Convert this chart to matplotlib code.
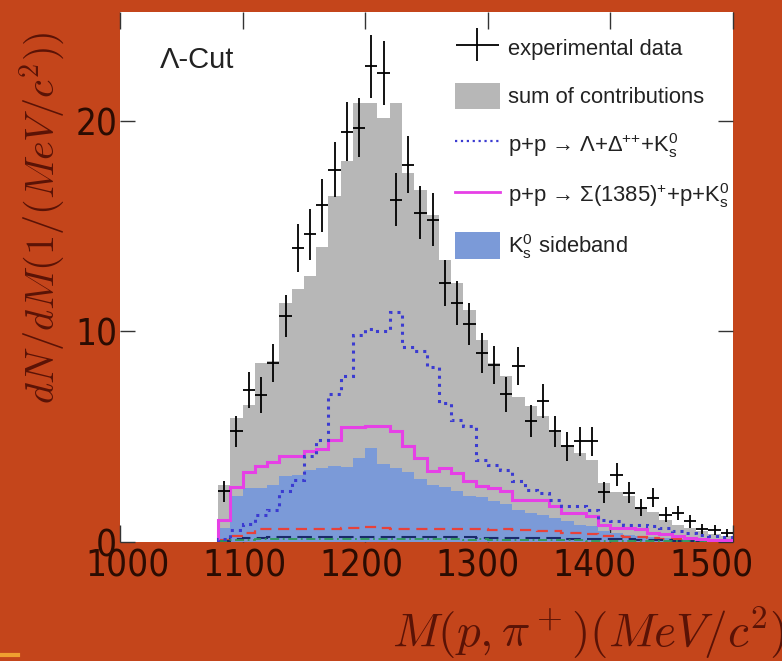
import numpy as np
import matplotlib
matplotlib.use("Agg")
import matplotlib.pyplot as plt
from matplotlib import font_manager
from matplotlib.font_manager import FontProperties
from matplotlib.patches import Patch
from matplotlib.lines import Line2D
from matplotlib.legend_handler import HandlerErrorbar

# 10 MeV bins from 1080 to 1500
edges = np.arange(1080, 1501, 10)
centers = edges[:-1] + 5

data_y = [2.41, 5.25, 7.2, 6.96, 8.5, 10.74, 13.94, 14.6, 15.98, 17.67,
          19.46, 19.65, 22.58, 22.26, 16.25, 17.9, 15.62, 15.3, 12.3, 11.34,
          10.36, 8.97, 8.42, 7.0, 8.34, 5.73, 6.68, 5.25, 4.54, 4.78,
          4.78, 2.37, 3.2, 2.33, 1.62, 2.1, 1.3, 1.38, 0.98, 0.62,
          0.56, 0.43]
data_err = [0.5, 0.75, 0.85, 0.85, 0.9, 1.0, 1.15, 1.2, 1.25, 1.3,
            1.4, 1.4, 1.5, 1.5, 1.25, 1.35, 1.25, 1.25, 1.1, 1.05,
            1.0, 0.95, 0.9, 0.85, 0.9, 0.75, 0.8, 0.75, 0.7, 0.7,
            0.7, 0.5, 0.55, 0.5, 0.4, 0.45, 0.35, 0.35, 0.3, 0.25,
            0.25, 0.2]
sum_y = [2.72, 5.9, 6.5, 8.5, 8.6, 11.35, 12.0, 12.6, 14.0, 16.4,
         18.1, 20.85, 20.85, 20.1, 20.85, 17.5, 16.7, 15.5, 13.4, 12.3,
         11.0, 9.6, 8.5, 7.9, 6.9, 6.45, 6.0, 5.2, 4.6, 4.2,
         3.9, 2.8, 2.35, 2.2, 1.65, 1.4, 1.06, 0.83, 0.68, 0.5,
         0.38, 0.3]
sideband = [0.67, 2.17, 2.56, 2.56, 2.72, 3.12, 3.2, 3.44, 3.52, 3.6,
            3.55, 4.0, 4.45, 3.7, 3.5, 3.3, 3.0, 2.7, 2.6, 2.4,
            2.2, 2.15, 1.95, 1.78, 1.54, 1.38, 1.3, 1.14, 0.98, 0.83,
            0.75, 0.51, 0.43, 0.35, 0.3, 0.25, 0.2, 0.15, 0.12, 0.1,
            0.08, 0.06]
sigma1385 = [1.06, 2.61, 3.31, 3.59, 3.78, 4.07, 4.07, 4.31, 4.39, 4.86,
             5.46, 5.46, 5.52, 5.52, 5.26, 4.54, 3.99, 3.36, 3.52, 3.28,
             2.88, 2.65, 2.57, 2.41, 2.01, 2.01, 2.01, 1.69, 1.38, 1.38,
             1.22, 0.83, 0.67, 0.67, 0.62, 0.43, 0.4, 0.27, 0.2, 0.15,
             0.1, 0.08]
lambda_delta = [0.15, 0.59, 0.85, 1.3, 1.54, 2.4, 2.96, 4.07, 4.86, 7.0,
                7.9, 9.84, 10.1, 10.0, 10.9, 9.25, 9.05, 8.3, 6.6, 5.81,
                5.5, 3.87, 3.67, 3.44, 2.88, 2.49, 2.33, 2.01, 1.69, 1.69,
                1.54, 1.06, 0.98, 0.83, 0.83, 0.75, 0.67, 0.51, 0.43, 0.35,
                0.3, 0.25]
small_red = [0.1, 0.3, 0.45, 0.6, 0.62, 0.62, 0.64, 0.62, 0.64, 0.62,
             0.66, 0.68, 0.72, 0.66, 0.64, 0.62, 0.64, 0.62, 0.6, 0.62,
             0.6, 0.6, 0.58, 0.6, 0.55, 0.55, 0.52, 0.5, 0.45, 0.42,
             0.4, 0.3, 0.28, 0.25, 0.22, 0.2, 0.15, 0.12, 0.1, 0.08,
             0.06, 0.05]
small_navy = [0.05, 0.12, 0.18, 0.2, 0.22, 0.22, 0.24, 0.22, 0.24, 0.25,
              0.24, 0.25, 0.24, 0.25, 0.24, 0.23, 0.24, 0.22, 0.23, 0.22,
              0.22, 0.2, 0.21, 0.2, 0.2, 0.18, 0.18, 0.17, 0.16, 0.15,
              0.15, 0.14, 0.13, 0.12, 0.1, 0.1, 0.08, 0.07, 0.06, 0.05,
              0.04, 0.03]
small_green = [0.03, 0.08, 0.1, 0.12, 0.13, 0.12, 0.14, 0.13, 0.14, 0.13,
               0.14, 0.15, 0.14, 0.13, 0.14, 0.13, 0.12, 0.13, 0.12, 0.12,
               0.11, 0.12, 0.11, 0.1, 0.1, 0.1, 0.09, 0.09, 0.08, 0.08,
               0.07, 0.07, 0.06, 0.06, 0.05, 0.05, 0.04, 0.04, 0.03, 0.03,
               0.02, 0.02]

x_ticks = [1000, 1100, 1200, 1300, 1400, 1500]
y_ticks = [0, 10, 20]
legend_labels = ['experimental data',
                 'sum of contributions',
                 r'p+p → Λ+$\mathregular{\Delta^{{+}{+}}}$+$\mathregular{K^0_s}$',
                 r'p+p → Σ(1385)$\mathregular{^{+}}$+p+$\mathregular{K^0_s}$',
                 r'$\mathregular{K^0_s}$ sideband']

# a narrow face for the tick numbers, if one is installed
narrow_file = None
for f in font_manager.fontManager.ttflist:
    if f.style != 'normal' or f.weight not in (400, 'normal', 'regular'):
        continue
    if 'Narrow' in f.name or 'Condensed' in f.name or f.stretch in ('condensed', 'semi-condensed'):
        narrow_file = f.fname
        if 'Sans' in f.name:
            break
if narrow_file:
    tick_font = FontProperties(fname=narrow_file, size=26.5)
else:
    tick_font = FontProperties(family='DejaVu Sans', size=23)

plt.rcParams['font.family'] = ['Liberation Sans', 'DejaVu Sans']

bg = '#c4451b'
label_col = '#5a1306'
tick_col = '#2b0c02'

fig = plt.figure(figsize=(7.82, 6.61), dpi=100, facecolor=bg)
ax = fig.add_axes([120 / 782, 119 / 661, 613 / 782, 530 / 661])
ax.set_facecolor('white')

ax.stairs(sum_y, edges, fill=True, color='#b7b7b7', zorder=1)
ax.stairs(sideband, edges, fill=True, color='#7b9ad8', zorder=2)
ax.stairs(small_red, edges, baseline=None, color='#e8413a', lw=1.6,
          ls=(0, (5, 3)), zorder=3)
ax.stairs(small_navy, edges, baseline=None, color='#1a2a6c', lw=1.5,
          ls=(0, (7, 3)), zorder=3)
ax.stairs(small_green, edges, baseline=None, color='#2f9a5a', lw=1.3,
          ls=(0, (5, 2, 1, 2)), zorder=3)
ax.stairs(sigma1385, edges, color='#e640e6', lw=2.2, zorder=4)
ax.stairs(lambda_delta, edges, color='#3b3bd1', lw=2.2, ls=':', zorder=5)
eb = ax.errorbar(centers, data_y, yerr=data_err, xerr=5, fmt='none',
                 ecolor='black', elinewidth=1.3, capsize=0, zorder=6)

ax.set_xlim(1000, 1500)
ax.set_ylim(0, 25.15)
ax.set_xticks(x_ticks)
ax.set_yticks(y_ticks)
ax.tick_params(axis='x', direction='in', top=True, bottom=True,
               labelbottom=False, length=12, width=1, color='#333333')
ax.tick_params(axis='y', direction='in', left=True, right=True,
               length=11, width=1, color='#333333',
               labelcolor=tick_col, pad=2)
ax.set_yticklabels([str(v) for v in y_ticks], fontproperties=tick_font)
for s in ax.spines.values():
    s.set_visible(False)


# tick labels of the slide sit on a slightly compressed scale
def fwd(x):
    return 1000 + (x - 1006.5) * 1.0513


def inv(x):
    return 1006.5 + (x - 1000) / 1.0513


sec = ax.secondary_xaxis('bottom', functions=(fwd, inv))
sec.set_xticks(x_ticks)
sec.set_xticklabels([str(v) for v in x_ticks], fontproperties=tick_font)
sec.tick_params(length=0, labelcolor=tick_col, pad=4)
sec.spines['bottom'].set_visible(False)

handles = [eb,
           Patch(facecolor='#b7b7b7', edgecolor='none'),
           Line2D([], [], color='#3b3bd1', ls=':', lw=1.6),
           Line2D([], [], color='#e640e6', lw=2),
           Patch(facecolor='#7b9ad8', edgecolor='none')]
leg = ax.legend(handles, legend_labels, loc='upper left',
                bbox_to_anchor=(0.5465, 0.958), frameon=False, fontsize=15.8,
                handlelength=2.05, handleheight=1.5, handletextpad=0.38,
                labelspacing=0.98, borderpad=0, borderaxespad=0,
                handler_map={eb: HandlerErrorbar(xerr_size=1.0, yerr_size=0.75)})
for t in leg.get_texts():
    t.set_color('#222222')

ax.text(0.065, 0.91, 'Λ-Cut', transform=ax.transAxes, fontsize=21,
        va='center', color='#222222')

fig.text(42 / 782, 1 - 218 / 661, r'$dN/dM(1/(MeV/c^2))$', rotation=90,
         fontsize=29, color=label_col, ha='center', va='center',
         math_fontfamily='cm')
fig.text(1.005, 1 - 633 / 661, r'$M(p,\pi^+)(MeV/c^2)$', ha='right',
         va='center', fontsize=34, color=label_col, math_fontfamily='cm')

fig.add_artist(Line2D([0, 18 / 782], [1 - 655 / 661] * 2, color='#f0a030',
                      lw=3, transform=fig.transFigure))

fig.savefig('out.png', dpi=100, facecolor=fig.get_facecolor())
